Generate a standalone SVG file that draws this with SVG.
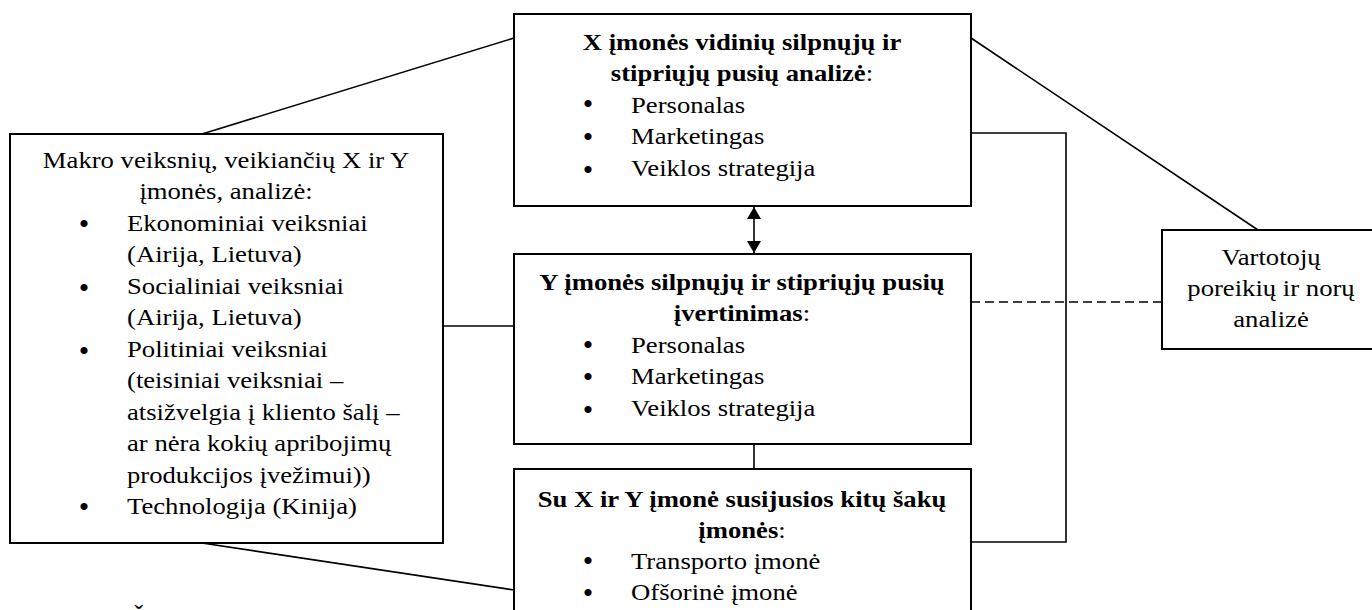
<svg xmlns="http://www.w3.org/2000/svg" width="1372" height="610" viewBox="0 0 1372 610">
  <defs>
    <style>
      .box { fill: #ffffff; stroke: #000000; stroke-width: 2; }
      .ln { fill: none; stroke: #000000; stroke-width: 1.6; }
      .dash { fill: none; stroke: #000000; stroke-width: 1.6; stroke-dasharray: 9 5; }
      text { font-family: "Liberation Serif", "Times New Roman", serif; font-size: 23px; fill: #000000; }
      .c text, text.c { text-anchor: middle; }
      .b { font-weight: bold; }
      .dot text { font-size: 30px; text-anchor: middle; }
    </style>
    <marker id="tri" viewBox="0 0 12 14" refX="12" refY="7" markerWidth="12" markerHeight="15" markerUnits="userSpaceOnUse" orient="auto-start-reverse">
      <path d="M0,0 L12,7 L0,14 Z" fill="#000000"/>
    </marker>
  </defs>

  <!-- connectors -->
  <g id="connectors">
    <line class="ln" x1="202" y1="134" x2="514" y2="38"/>
    <line class="ln" x1="971" y1="38" x2="1258" y2="230"/>
    <line class="ln" x1="443" y1="326" x2="514" y2="326"/>
    <line class="ln" x1="202" y1="543" x2="514" y2="590"/>
    <polyline class="ln" points="971,133 1066,133 1066,542 971,542"/>
    <line class="dash" x1="971" y1="302" x2="1162" y2="302"/>
    <line class="ln" x1="754" y1="444" x2="754" y2="469"/>
    <line class="ln" x1="754" y1="207" x2="754" y2="253" marker-start="url(#tri)" marker-end="url(#tri)"/>
  </g>

  <!-- macro factors -->
  <g id="macro">
    <rect class="box" x="10" y="134" width="433" height="409"/>
    <g class="c" transform="translate(226,0) scale(1.16,1)">
      <text x="0" y="168">Makro veiksnių, veikiančių X ir Y</text>
      <text x="0" y="199.5">įmonės, analizė:</text>
    </g>
    <g class="dot" transform="translate(84,0)">
      <text x="0" y="234">•</text>
      <text x="0" y="298">•</text>
      <text x="0" y="361">•</text>
      <text x="0" y="517">•</text>
    </g>
    <g transform="translate(127,0) scale(1.16,1)">
      <text x="0" y="231">Ekonominiai veiksniai</text>
      <text x="0" y="262.5">(Airija, Lietuva)</text>
      <text x="0" y="294">Socialiniai veiksniai</text>
      <text x="0" y="325.5">(Airija, Lietuva)</text>
      <text x="0" y="357">Politiniai veiksniai</text>
      <text x="0" y="388.5">(teisiniai veiksniai –</text>
      <text x="0" y="420">atsižvelgia į kliento šalį –</text>
      <text x="0" y="451.5">ar nėra kokių apribojimų</text>
      <text x="0" y="483">produkcijos įvežimui))</text>
      <text x="0" y="514.5">Technologija (Kinija)</text>
    </g>
  </g>

  <!-- company X -->
  <g id="companyX">
    <rect class="box" x="514" y="14" width="457" height="192"/>
    <g class="c" transform="translate(742,0) scale(1.16,1)">
      <text x="0" y="50"><tspan class="b">X įmonės vidinių silpnųjų ir</tspan></text>
      <text x="0" y="81"><tspan class="b">stipriųjų pusių analizė</tspan>:</text>
    </g>
    <g class="dot" transform="translate(588,0)">
      <text x="0" y="114">•</text>
      <text x="0" y="147">•</text>
      <text x="0" y="180">•</text>
    </g>
    <g transform="translate(631,0) scale(1.16,1)">
      <text x="0" y="113">Personalas</text>
      <text x="0" y="144.5">Marketingas</text>
      <text x="0" y="176">Veiklos strategija</text>
    </g>
  </g>

  <!-- company Y -->
  <g id="companyY">
    <rect class="box" x="514" y="254" width="457" height="190"/>
    <g class="c" transform="translate(742,0) scale(1.16,1)">
      <text x="0" y="290"><tspan class="b">Y įmonės silpnųjų ir stipriųjų pusių</tspan></text>
      <text x="0" y="321.5"><tspan class="b">įvertinimas</tspan>:</text>
    </g>
    <g class="dot" transform="translate(588,0)">
      <text x="0" y="354.5">•</text>
      <text x="0" y="386.5">•</text>
      <text x="0" y="419.5">•</text>
    </g>
    <g transform="translate(631,0) scale(1.16,1)">
      <text x="0" y="353">Personalas</text>
      <text x="0" y="384.5">Marketingas</text>
      <text x="0" y="416">Veiklos strategija</text>
    </g>
  </g>

  <!-- related companies -->
  <g id="related">
    <rect class="box" x="514" y="469" width="457" height="160"/>
    <g class="c" transform="translate(742,0) scale(1.16,1)">
      <text x="0" y="507"><tspan class="b">Su X ir Y įmonė susijusios kitų šakų</tspan></text>
      <text x="0" y="538"><tspan class="b">įmonės</tspan>:</text>
    </g>
    <g class="dot" transform="translate(588,0)">
      <text x="0" y="571">•</text>
      <text x="0" y="603">•</text>
    </g>
    <g transform="translate(631,0) scale(1.16,1)">
      <text x="0" y="569">Transporto įmonė</text>
      <text x="0" y="600">Ofšorinė įmonė</text>
    </g>
  </g>

  <!-- consumer needs -->
  <g id="consumers">
    <rect class="box" x="1162" y="230" width="219" height="119"/>
    <g class="c" transform="translate(1271,0) scale(1.16,1)">
      <text x="0" y="265">Vartotojų</text>
      <text x="0" y="296">poreikių ir norų</text>
      <text x="0" y="327">analizė</text>
    </g>
  </g>

  <text transform="translate(131,625) scale(1.16,1)" x="0" y="0">Š</text>
</svg>
